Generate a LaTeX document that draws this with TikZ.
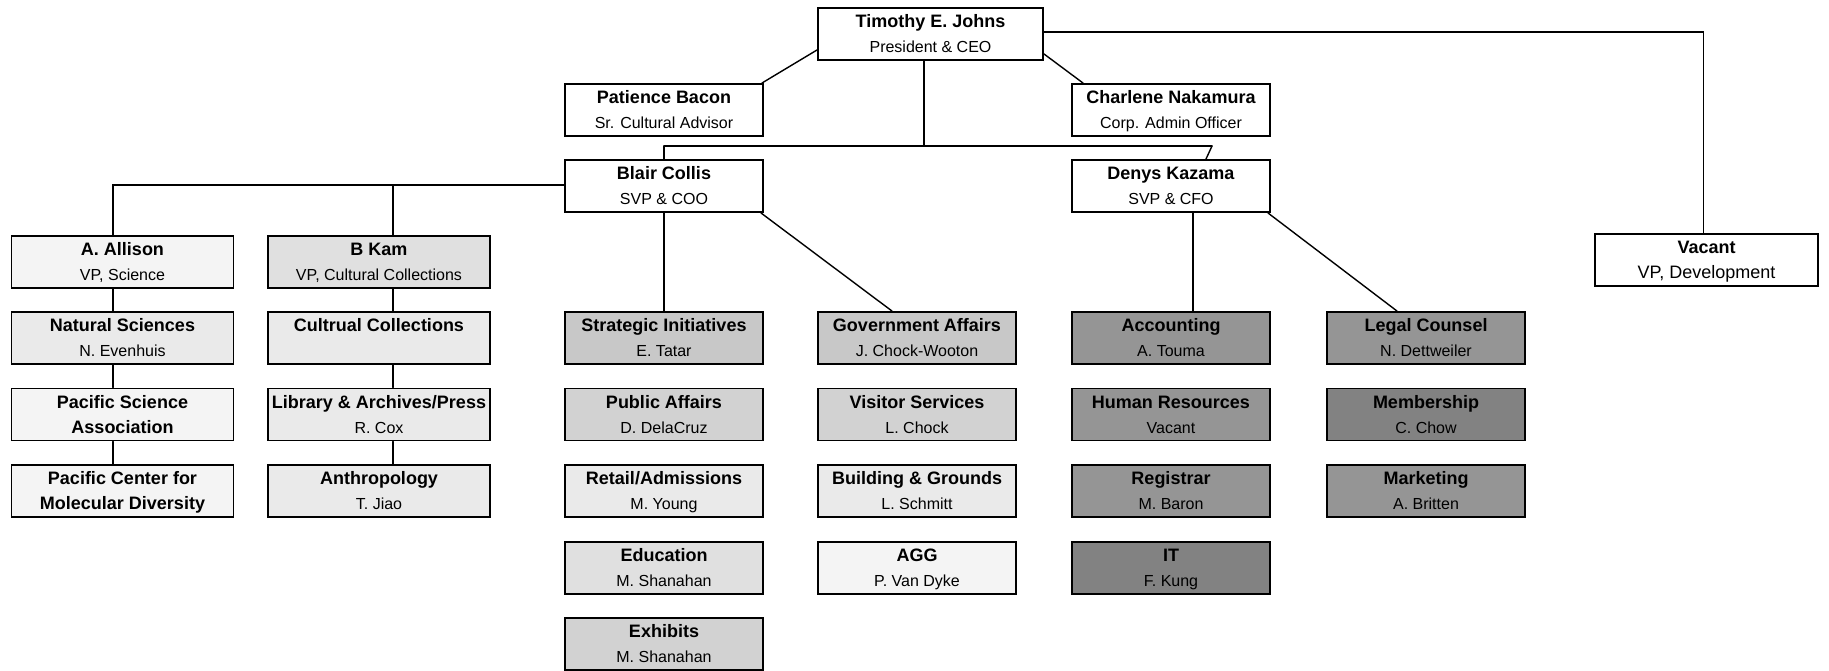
\documentclass[tikz,border=0pt]{standalone}
\usepackage{fontspec}
\setmainfont{Liberation Sans}
\usetikzlibrary{calc}
\definecolor{cA}{HTML}{F4F4F4}
\definecolor{cB}{HTML}{EAEAEA}
\definecolor{cC}{HTML}{E0E0E0}
\definecolor{cD}{HTML}{D2D2D2}
\definecolor{cE}{HTML}{C8C8C8}
\definecolor{cF}{HTML}{959595}
\definecolor{cG}{HTML}{828282}
\newcommand\subln{\fontsize{16}{25}\selectfont\mdseries}
\tikzset{
  box/.style={draw=black, line width=1.9pt, fill=white, minimum height=52pt,
    minimum width=198pt, inner sep=0pt, align=center, text height=37.9pt,
    text depth=0pt, font=\fontsize{18}{25}\selectfont\bfseries},
  wbox/.style={box, minimum width=222pt},
  conn/.style={line width=1.4pt, line cap=round},
}
\begin{document}
\begin{tikzpicture}[x=1pt,y=-1pt]
\fill[white] (0,0) rectangle (1829,671);
\useasboundingbox (0,0) rectangle (1829,671);
% top levels
\node[box, minimum width=225pt] (tim) at (930.5,34) {Timothy E. Johns\\\subln President \& CEO};
\node[box] (pat) at (664,110) {Patience Bacon\\\subln Sr. Cultural Advisor};
\node[box] (cha) at (1171,110) {Charlene Nakamura\\\subln Corp. Admin Officer};
\node[box] (bla) at (664,186) {Blair Collis\\\subln SVP \& COO};
\node[box] (den) at (1171,186) {Denys Kazama\\\subln SVP \& CFO};
\node[box, minimum width=223pt] (vac) at (1706.5,260) {Vacant\\\fontsize{18}{25}\selectfont\mdseries VP, Development};
% science column
\node[wbox, fill=cA] (aal) at (122.5,262) {A. Allison\\\subln VP, Science};
\node[wbox, fill=cB] (nat) at (122.5,338) {Natural Sciences\\\subln N. Evenhuis};
\node[wbox, fill=cA] (pss) at (122.5,414.5) {Pacific Science\\Association};
\node[wbox, fill=cA] (pcm) at (122.5,491) {Pacific Center for\\Molecular Diversity};
% collections column
\node[wbox, fill=cC] (bka) at (379,262) {B Kam\\\subln VP, Cultural Collections};
\node[wbox, fill=cB] (ccl) at (379,338) {Cultrual Collections\\\subln\strut};
\node[wbox, fill=cB] (lib) at (379,414.5) {Library \& Archives/Press\\\subln R. Cox};
\node[wbox, fill=cB] (ant) at (379,491) {Anthropology\\\subln T. Jiao};
% COO columns
\node[box, fill=cE] (str) at (664,338) {Strategic Initiatives\\\subln E. Tatar};
\node[box, fill=cD] (pub) at (664,414.5) {Public Affairs\\\subln D. DelaCruz};
\node[box, fill=cB] (ret) at (664,491) {Retail/Admissions\\\subln M. Young};
\node[box, fill=cC] (edu) at (664,568) {Education\\\subln M. Shanahan};
\node[box, fill=cD] (exh) at (664,644) {Exhibits\\\subln M. Shanahan};
\node[box, fill=cE] (gov) at (917,338) {Government Affairs\\\subln J. Chock-Wooton};
\node[box, fill=cD] (vis) at (917,414.5) {Visitor Services\\\subln L. Chock};
\node[box, fill=cB] (bld) at (917,491) {Building \& Grounds\\\subln L. Schmitt};
\node[box, fill=cA] (agg) at (917,568) {AGG\\\subln P. Van Dyke};
% CFO columns
\node[box, fill=cF] (acc) at (1171,338) {Accounting\\\subln A. Touma};
\node[box, fill=cF] (hr) at (1171,414.5) {Human Resources\\\subln Vacant};
\node[box, fill=cF] (reg) at (1171,491) {Registrar\\\subln M. Baron};
\node[box, fill=cG] (it) at (1171,568) {IT\\\subln F. Kung};
\node[box, fill=cF] (leg) at (1426,338) {Legal Counsel\\\subln N. Dettweiler};
\node[box, fill=cG] (mem) at (1426,414.5) {Membership\\\subln C. Chow};
\node[box, fill=cF] (mkt) at (1426,491) {Marketing\\\subln A. Britten};
% helper coordinates
\coordinate (busL) at (664,146);
\coordinate (busR) at (1212,146);
\coordinate (busM) at (924,146);
\coordinate (lA) at (113,185);
\coordinate (lB) at (393,185);
% connectors
\draw[conn] ([yshift=11pt]tim.south west) -- ([xshift=-2pt]pat.north east);
\draw[conn] ([yshift=7pt]tim.south east) -- ([xshift=12pt]cha.north west);
\draw[conn] ([yshift=2pt]tim.east) -| ([xshift=-3pt]vac.north);
\draw[conn] (tim.south -| busM) -- (busM);
\draw[conn] (busL) -- (busR);
\draw[conn] (busL) -- (bla.north);
\draw[conn] (busR) -- ([xshift=35pt]den.north);
\draw[conn] (bla.west |- lA) -- (lA) -- (aal.north -| lA);
\draw[conn] (lB) -- (bka.north -| lB);
\draw[conn] (bla.south) -- (str.north);
\draw[conn] ([xshift=-3pt]bla.south east) -- ([xshift=-25pt]gov.north);
\draw[conn] ([xshift=22pt]den.south) -- ([xshift=22pt]acc.north);
\draw[conn] ([xshift=-3pt]den.south east) -- ([xshift=-29pt]leg.north);
\draw[conn] (aal.south -| lA) -- (nat.north -| lA);
\draw[conn] (nat.south -| lA) -- (pss.north -| lA);
\draw[conn] (pss.south -| lA) -- (pcm.north -| lA);
\draw[conn] (bka.south -| lB) -- (ccl.north -| lB);
\draw[conn] (ccl.south -| lB) -- (lib.north -| lB);
\draw[conn] (lib.south -| lB) -- (ant.north -| lB);
\end{tikzpicture}
\end{document}
